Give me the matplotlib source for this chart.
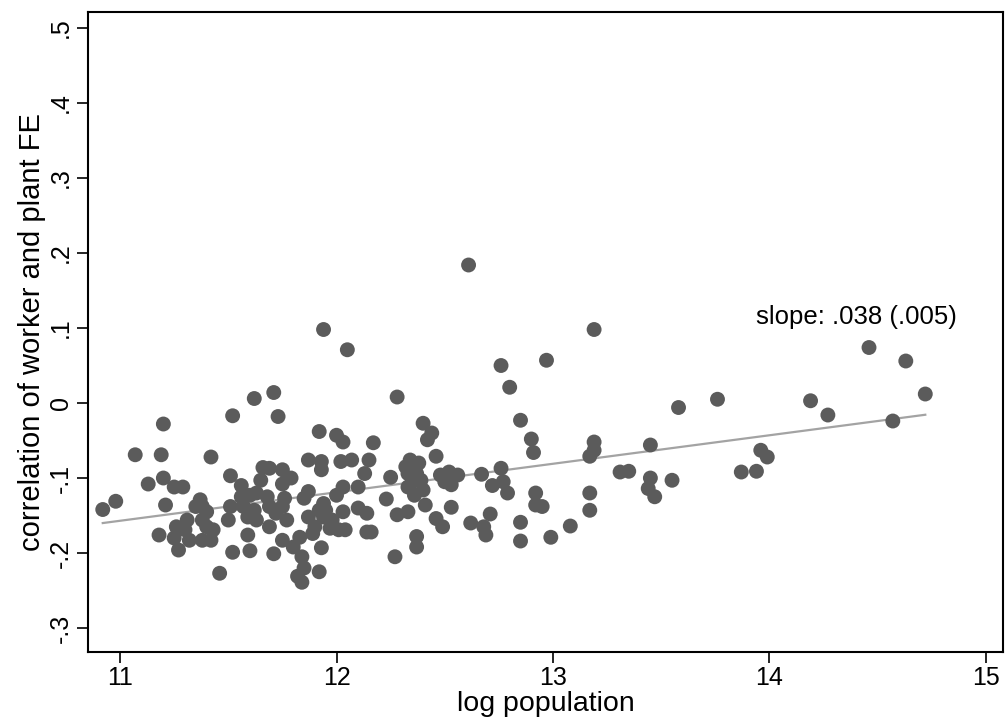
import numpy as np
import matplotlib
matplotlib.use("Agg")
import matplotlib.pyplot as plt

plt.rcParams['font.family'] = ['Liberation Sans', 'DejaVu Sans']

# log population of each region
log_pop = [
    10.92, 10.98, 11.07, 11.13, 11.19, 11.20, 11.20, 11.21, 11.18, 11.25,
    11.29, 11.26, 11.25, 11.27, 11.31, 11.30, 11.32,
    11.37, 11.35, 11.38, 11.40, 11.38, 11.40, 11.43, 11.38, 11.42, 11.42, 11.46,
    11.52, 11.51, 11.56, 11.65, 11.66, 11.69, 11.75, 11.79, 11.75,
    11.56, 11.60, 11.63, 11.68, 11.51, 11.57, 11.62, 11.59, 11.63,
    11.69, 11.72, 11.75, 11.76, 11.50, 11.59, 11.52, 11.60, 11.69,
    11.75, 11.71, 11.62, 11.71, 11.73, 11.77,
    11.80, 11.83, 11.84, 11.85, 11.92, 11.82, 11.84, 11.93, 11.85, 11.87,
    11.87, 11.93, 11.93, 11.92, 12.00, 12.03, 12.17, 12.02, 12.07, 12.15,
    12.13, 12.25, 12.03, 12.10, 12.00, 12.23, 11.94, 11.92, 11.95, 12.03,
    12.10, 12.14, 11.87, 11.94, 11.98, 11.97, 12.01, 12.04, 11.90, 11.89,
    12.14, 12.16, 12.28, 12.27, 11.94, 12.05, 12.28,
    12.33, 12.32, 12.34, 12.35, 12.38, 12.33, 12.37, 12.35, 12.39, 12.40,
    12.36, 12.33, 12.41, 12.37, 12.37, 12.40, 12.44, 12.42, 12.46, 12.48,
    12.52, 12.56, 12.50, 12.53, 12.53, 12.46, 12.49, 12.67, 12.76, 12.72,
    12.77, 12.79, 12.71, 12.62, 12.68, 12.69, 12.61, 12.76, 12.80, 12.85,
    12.85, 12.85, 12.90, 12.91, 12.92, 12.92, 12.95, 12.99, 13.08, 12.97,
    13.19, 13.19, 13.17, 13.17, 13.17, 13.19,
    13.31, 13.35, 13.45, 13.45, 13.44, 13.47, 13.55, 13.58, 13.76, 13.87,
    13.94, 13.96, 13.99, 14.19, 14.27, 14.46, 14.63, 14.72, 14.57,
]

# correlation of worker and plant fixed effects
corr_fe = [
    -0.142, -0.131, -0.069, -0.108, -0.069, -0.100, -0.028, -0.136, -0.176, -0.112,
    -0.112, -0.165, -0.180, -0.196, -0.156, -0.169, -0.183,
    -0.129, -0.138, -0.138, -0.145, -0.156, -0.165, -0.169, -0.183, -0.183, -0.072, -0.227,
    -0.017, -0.097, -0.110, -0.103, -0.086, -0.087, -0.089, -0.100, -0.108,
    -0.125, -0.123, -0.120, -0.125, -0.138, -0.138, -0.143, -0.152, -0.156,
    -0.138, -0.147, -0.138, -0.127, -0.156, -0.176, -0.199, -0.197, -0.165,
    -0.183, -0.201, 0.006, 0.014, -0.018, -0.156,
    -0.192, -0.179, -0.205, -0.220, -0.225, -0.231, -0.239, -0.193, -0.127, -0.118,
    -0.076, -0.078, -0.089, -0.038, -0.043, -0.052, -0.053, -0.078, -0.076, -0.076,
    -0.094, -0.099, -0.112, -0.112, -0.123, -0.128, -0.134, -0.143, -0.143, -0.145,
    -0.140, -0.147, -0.152, -0.152, -0.156, -0.167, -0.169, -0.169, -0.165, -0.174,
    -0.172, -0.172, -0.149, -0.205, 0.098, 0.071, 0.008,
    -0.145, -0.085, -0.076, -0.089, -0.080, -0.094, -0.094, -0.105, -0.103, -0.116,
    -0.123, -0.112, -0.136, -0.178, -0.192, -0.027, -0.040, -0.049, -0.071, -0.096,
    -0.092, -0.096, -0.105, -0.109, -0.139, -0.154, -0.165, -0.095, -0.087, -0.110,
    -0.105, -0.120, -0.148, -0.160, -0.165, -0.176, 0.184, 0.050, 0.021, -0.023,
    -0.159, -0.184, -0.048, -0.066, -0.120, -0.136, -0.138, -0.179, -0.164, 0.057,
    -0.052, -0.063, -0.071, -0.120, -0.143, 0.098,
    -0.092, -0.091, -0.056, -0.100, -0.114, -0.125, -0.103, -0.006, 0.005, -0.092,
    -0.091, -0.063, -0.072, 0.003, -0.016, 0.074, 0.056, 0.012, -0.024,
]

# fitted line
SLOPE = 0.038
INTERCEPT = -0.575
slope_label = "slope: .038 (.005)"

x_ticks = [11, 12, 13, 14, 15]
y_ticks = [-0.3, -0.2, -0.1, 0, 0.1, 0.2, 0.3, 0.4, 0.5]
y_tick_labels = ["-.3", "-.2", "-.1", "0", ".1", ".2", ".3", ".4", ".5"]

fig = plt.figure(figsize=(10.05, 7.2), dpi=100)
ax = fig.add_axes([0.0876, 0.0944, 0.9104, 0.8886])

ax.scatter(log_pop, corr_fe, s=115, color='#5b5b5b', edgecolors='none', zorder=3)

xs = np.array([min(log_pop), max(log_pop)])
ax.plot(xs, INTERCEPT + SLOPE * xs, color='#a3a3a3', lw=1.6, zorder=2)

ax.text(13.94, 0.115, slope_label, fontsize=18.5, va='center', ha='left')

ax.set_xlim(10.852, 15.079)
ax.set_ylim(-0.332, 0.521)
ax.set_xticks(x_ticks)
ax.set_xticklabels([str(t) for t in x_ticks], fontsize=18)
ax.set_yticks(y_ticks)
ax.set_yticklabels(y_tick_labels, fontsize=18, rotation=90, va='center')
ax.tick_params(axis='y', direction='out', length=8, width=1.2, pad=3)
ax.tick_params(axis='x', direction='out', length=8, width=1.2, pad=2)

ax.set_xlabel("log population", fontsize=20.5, labelpad=1)
ax.set_ylabel("correlation of worker and plant FE", fontsize=21, labelpad=2)

for sp in ax.spines.values():
    sp.set_linewidth(1.5)

plt.savefig("out.png", dpi=100)
